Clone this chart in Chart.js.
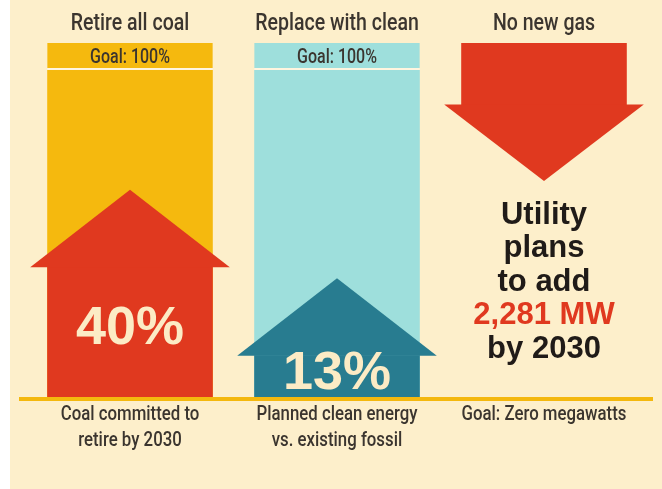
<!DOCTYPE html>
<html>
<head>
<meta charset="utf-8">
<script src="https://cdn.jsdelivr.net/npm/chart.js@4.4.1/dist/chart.umd.min.js"></script>
<style>
html, body { margin: 0; padding: 0; background: #fff; }
#wrap { width: 662px; height: 489px; }
</style>
</head>
<body>
<div id="wrap"><canvas id="chart" width="662" height="489"></canvas></div>
<script>
// data
const titles = ["Retire all coal", "Replace with clean", "No new gas"];
const captions = [["Coal committed to", "retire by 2030"], ["Planned clean energy", "vs. existing fossil"], ["Goal: Zero megawatts"]];
const goals = [100, 100, null];
const goal_labels = ["Goal: 100%", "Goal: 100%", null];
const progress = [40, 13, null];
const progress_labels = ["40%", "13%", null];
const gas_lines = ["Utility", "plans", "to add", "2,281 MW", "by 2030"];

const NARROW = 'Roboto, "DejaVu Sans Condensed", sans-serif';
const WIDE = '"Liberation Sans", Arial, sans-serif';
const CREAM = "#fdefcb";
const RED = "#e0391f";
const INK = "#3b352f";
const BAND = [100, 108.2];

// condensed text: squeeze the normal width
const narrowText = (ctx, t, x, y, squeeze) => {
    const w = ctx.measureText(t).width;
    ctx.fillText(t, x, y, w * squeeze);
};

const bg = {
    id: 'bg',
    beforeDraw(chart) {
        const ctx = chart.ctx;
        ctx.save();
        ctx.fillStyle = CREAM;
        ctx.fillRect(10, 0, chart.width - 10, chart.height);
        ctx.restore();
    }
};

const arrowHeads = {
    id: 'arrowHeads',
    afterDatasetsDraw(chart) {
        const ctx = chart.ctx;
        chart.data.datasets.forEach((ds, i) => {
            if (!ds.arrow) return;
            chart.getDatasetMeta(i).data.forEach((bar, j) => {
                if (ds.data[j] == null) return;
                const half = bar.width / 2 + 17;
                const top = Math.min(bar.y, bar.base);
                const bottom = Math.max(bar.y, bar.base);
                ctx.save();
                ctx.fillStyle = Array.isArray(ds.backgroundColor) ? ds.backgroundColor[j] : ds.backgroundColor;
                ctx.beginPath();
                if (ds.arrow === 'up') {
                    ctx.moveTo(bar.x - half, top + 0.5);
                    ctx.lineTo(bar.x, top - 77);
                    ctx.lineTo(bar.x + half, top + 0.5);
                } else {
                    ctx.moveTo(bar.x - half, bottom - 0.5);
                    ctx.lineTo(bar.x, bottom + 76);
                    ctx.lineTo(bar.x + half, bottom - 0.5);
                }
                ctx.closePath();
                ctx.fill();
                ctx.restore();
            });
        });
        // base line
        ctx.save();
        ctx.fillStyle = "#f4b80e";
        ctx.fillRect(19, chart.chartArea.bottom - 1, 634, 4);
        ctx.restore();
    }
};

const texts = {
    id: 'texts',
    afterDraw(chart) {
        const ctx = chart.ctx;
        const x = chart.scales.x, y = chart.scales.y;
        ctx.save();
        ctx.textAlign = 'center';
        ctx.textBaseline = 'middle';
        ctx.fillStyle = INK;
        ctx.font = '500 23px ' + NARROW;
        titles.forEach((t, i) => narrowText(ctx, t, x.getPixelForValue(i), 24, 0.85));
        ctx.font = '500 20px ' + NARROW;
        goal_labels.forEach((t, i) => {
            if (t) narrowText(ctx, t, x.getPixelForValue(i), y.getPixelForValue((BAND[0] + BAND[1]) / 2) + 1, 0.8);
        });
        captions.forEach((lines, i) => {
            lines.forEach((t, k) => narrowText(ctx, t, x.getPixelForValue(i), chart.chartArea.bottom + 17 + k * 25.5, 0.84));
        });
        ctx.fillStyle = "#fcebc5";
        ctx.font = 'bold 54px ' + WIDE;
        const meta = chart.getDatasetMeta(0);
        progress_labels.forEach((t, i) => {
            if (!t) return;
            const bar = meta.data[i];
            ctx.fillText(t, bar.x, (bar.y + bar.base) / 2 - 3);
        });
        const gas = chart.getDatasetMeta(1).data[2];
        const y0 = Math.max(gas.y, gas.base) + 76 + 34;
        ctx.font = 'bold 31px ' + WIDE;
        gas_lines.forEach((t, i) => {
            ctx.fillStyle = t.indexOf("MW") >= 0 ? RED : "#201b18";
            ctx.fillText(t, gas.x, y0 + i * 33.5);
        });
        ctx.restore();
    }
};

new Chart(document.getElementById('chart'), {
    type: 'bar',
    data: {
        labels: captions,
        datasets: [
            {
                label: 'progress',
                data: progress,
                arrow: 'up',
                backgroundColor: [RED, "#287c90", RED],
                borderWidth: 0,
                grouped: false,
                order: 0
            },
            {
                label: 'new gas',
                data: [null, null, [89.3, BAND[1]]],
                arrow: 'down',
                backgroundColor: RED,
                borderWidth: 0,
                grouped: false,
                order: 0
            },
            {
                label: 'goal band',
                data: goals.map(g => g == null ? null : BAND),
                backgroundColor: ["#f5b90e", "#9edfdc", "#f5b90e"],
                borderColor: "#fff5df",
                borderWidth: {top: 0, left: 0, right: 0, bottom: 2},
                borderSkipped: false,
                grouped: false,
                order: 1
            },
            {
                label: 'goal',
                data: goals,
                backgroundColor: ["#f5b90e", "#9edfdc", "#f5b90e"],
                borderWidth: 0,
                grouped: false,
                order: 1
            }
        ]
    },
    options: {
        responsive: false,
        animation: false,
        barPercentage: 0.8,
        categoryPercentage: 1.0,
        layout: {padding: {left: 26.5, right: 14.5, top: 4.4, bottom: 0}},
        plugins: {legend: {display: false}, tooltip: {enabled: false}},
        scales: {
            x: {
                grid: {display: false, drawTicks: false},
                border: {display: false},
                ticks: {display: false},
                afterFit: s => { s.height = 91; }
            },
            y: {display: false, min: 0, max: 120}
        }
    },
    plugins: [bg, arrowHeads, texts]
});
</script>
</body>
</html>
